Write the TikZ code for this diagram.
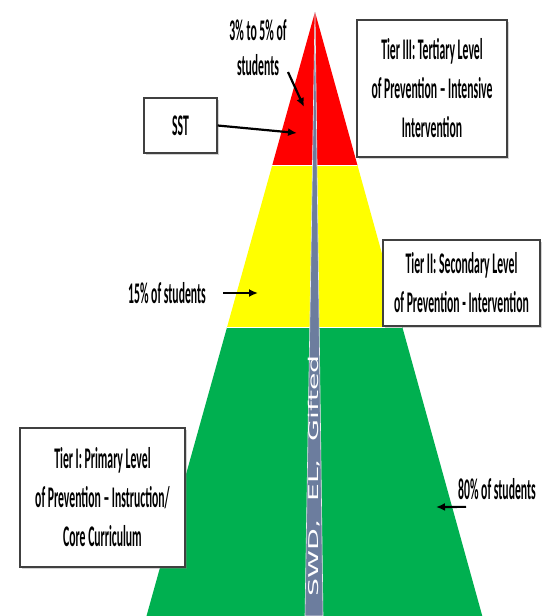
\documentclass[tikz,border=0pt]{standalone}
\usepackage{fontspec}
\newfontfamily\tierfont[FakeStretch=0.39,Ligatures=TeX]{Carlito}
\newfontfamily\stripefont[FakeStretch=2.1]{DejaVu Sans}
\usetikzlibrary{arrows.meta,shadows}
\definecolor{tierred}{RGB}{255,0,0}
\definecolor{tieryellow}{RGB}{255,255,0}
\definecolor{tiergreen}{RGB}{0,176,80}
\definecolor{stripegray}{RGB}{108,125,158}
\definecolor{boxline}{RGB}{64,64,64}

\begin{document}
\begin{tikzpicture}[
x=1pt,y=-1pt,
tierbox/.style={draw=boxline,line width=1.4pt,fill=white,align=center,inner sep=0pt,
  font=\tierfont\bfseries\fontsize{30}{39}\selectfont,
  drop shadow={shadow xshift=1.5pt,shadow yshift=-1.5pt,opacity=0.35}},
share/.style={align=center,inner sep=0pt,font=\tierfont\bfseries\fontsize{30}{35}\selectfont},
pointer/.style={-{Latex[length=9pt,width=8pt]},line width=2.2pt,black}
]
\useasboundingbox (0,0) rectangle (546,616);
\fill[tiergreen] (227.1,327) -- (402.3,327) -- (482.3,616) -- (146.5,616) -- cycle;
\fill[tieryellow] (272.3,165) -- (357.4,165) -- (402.3,327) -- (227.1,327) -- cycle;
\fill[tierred] (315,12) -- (357.4,165) -- (272.3,165) -- cycle;
\draw[white,line width=1pt] (272.3,165) -- (357.4,165) (227.1,327) -- (402.3,327);
\fill[stripegray,draw=white!85!stripegray,line width=0.6pt] (315,12) -- (323,616) -- (305,616) -- cycle;
\node[text=white,rotate=90,font=\stripefont\fontsize{13.5}{16}\selectfont] (group) at (314,476) {SWD,\ \ EL,\ \ Gifted};

\node[tierbox,minimum width=150pt,minimum height=137pt] (tier3) at (432,88.5) {Tier III: Tertiary Level\\of Prevention – Intensive\\Intervention};
\node[tierbox,minimum width=157pt,minimum height=86pt] (tier2) at (461.5,283) {Tier II: Secondary Level\\of Prevention - Intervention};
\node[tierbox,minimum width=165pt,minimum height=139pt] (tier1) at (102.5,497.5) {Tier I: Primary Level\\of Prevention – Instruction/\\Core Curriculum};
\node[tierbox,minimum width=73pt,minimum height=55pt] (sst) at (180.5,125.5) {SST};

\node[share] (share3) at (258,48) {3\% to 5\% of\\students};
\node[share] (share2) at (167,293) {15\% of students};
\node[share] (share1) at (497,489) {80\% of students};

\coordinate (sstend) at (297,133);
\coordinate (from3) at (288,72);
\coordinate (to3) at (304,107);
\coordinate (to2) at (258,293);
\coordinate (to1) at (436,507);
\draw[pointer] (sst.east) -- (sstend);
\draw[pointer] (from3) -- (to3);
\draw[pointer] (share2.east) ++(17,0) -- (to2);
\draw[pointer] (share1.south west) ++(8,7) -- (to1);
\end{tikzpicture}
\end{document}
